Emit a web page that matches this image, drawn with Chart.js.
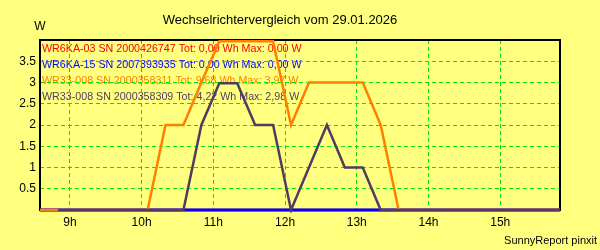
<!DOCTYPE html>
<html><head><meta charset="utf-8">
<script src="https://cdn.jsdelivr.net/npm/chart.js@4"></script>
<style>html,body{margin:0;padding:0;background:#FFFF80;}canvas{display:block;}</style>
</head><body>
<canvas id="c" width="600" height="250"></canvas>
<script>
const times = ["08:35","08:50","09:05","09:20","09:35","09:50","10:05","10:20","10:35","10:50",
  "11:05","11:20","11:35","11:50","12:05","12:20","12:35","12:50","13:05","13:20",
  "13:35","13:50","14:05","14:20","14:35","14:50","15:05","15:20","15:35","15:50"];
const seriesLabels = [
  "WR6KA-03 SN 2000426747 Tot: 0,00 Wh Max: 0,00 W",
  "WR6KA-15 SN 2007393935 Tot: 0,00 Wh Max: 0,00 W",
  "WR33-008 SN 2000358311 Tot: 9,68 Wh Max: 3,97 W",
  "WR33-008 SN 2000358309 Tot: 4,22 Wh Max: 2,98 W"
];
const wr6ka03 = [0,0,0,0,0,0,0,0,0,0, 0,0,0,0,0,0,0,0,0,0, 0,0,0,0,0,0,0,0,0,0];
const wr6ka15 = [0,0,0,0,0,0,0,0,0,0, 0,0,0,0,0,0,0,0,0,0, 0,0,0,0,0,0,0,0,0,0];
const wr33_311 = [0,0,0,0,0,0,0,2,2,3, 3.97,3.97,3.97,3.97,2,3,3,3,3,2, 0,0,0,0,0,0,0,0,0,0];
const wr33_309 = [null,0,0,0,0,0,0,0,0,2, 2.98,2.98,2,2,0,1,2,1,1,0, 0,0,0,0,0,0,0,0,0,0];
const hourTicks = [9,10,11,12,13,14,15];
const yTicks = [0.5,1,1.5,2,2.5,3,3.5];
const title = "Wechselrichtervergleich vom 29.01.2026";
const unitLabel = "W";
const footer = "SunnyReport pinxit";

const FONT = "'Liberation Sans', Arial, sans-serif";
const colors = ['#FF0000', '#0000FF', '#FF8000', '#503C5F'];
const toHours = t => { const p = t.split(':').map(Number); return p[0] + p[1] / 60; };
const pts = arr => arr.map((v, i) => ({x: toHours(times[i]), y: v}));
const seriesData = [wr6ka03, wr6ka15, wr33_311, wr33_309];
const widths = [2.5, 3, 2.5, 2.5];
const orders = [3, 2, 1, 0];

const textPlugin = {
  id: 'textPlugin',
  beforeDraw(chart) {
    const ctx = chart.ctx, a = chart.chartArea;
    ctx.save();
    ctx.textBaseline = 'middle';
    ctx.textAlign = 'left';
    ctx.font = '10.7px ' + FONT;
    seriesLabels.forEach((s, i) => {
      ctx.fillStyle = colors[i];
      ctx.fillText(s, a.left + 2, a.top + 9.5 + 16 * i);
    });
    ctx.fillStyle = '#000';
    ctx.font = '12px ' + FONT;
    ctx.textAlign = 'center';
    ctx.fillText(unitLabel, 40, 27);
    ctx.font = '11px ' + FONT;
    ctx.textAlign = 'right';
    ctx.fillText(footer, 597, 241);
    ctx.restore();
  },
  beforeDatasetsDraw(chart) {
    const ctx = chart.ctx, a = chart.chartArea;
    ctx.save();
    ctx.strokeStyle = '#000';
    ctx.lineWidth = 2;
    ctx.strokeRect(a.left, a.top, a.right - a.left, a.bottom - a.top);
    ctx.restore();
  }
};

new Chart(document.getElementById('c'), {
  type: 'line',
  data: {
    datasets: seriesData.map((d, i) => ({
      label: seriesLabels[i],
      data: pts(d),
      borderColor: colors[i],
      backgroundColor: colors[i],
      borderWidth: widths[i],
      pointRadius: 0,
      tension: 0,
      fill: false,
      clip: {left: 2, top: 3, right: 2, bottom: 3},
      order: orders[i]
    }))
  },
  options: {
    responsive: false,
    animation: false,
    devicePixelRatio: 1,
    layout: {padding: {left: 0, right: 40, top: 0, bottom: 0}},
    plugins: {
      legend: {display: false},
      tooltip: {enabled: false},
      title: {
        display: true,
        text: title,
        color: '#000',
        font: {family: FONT, size: 13, weight: 'normal', lineHeight: 1.2},
        padding: {top: 12.5, bottom: 11.9}
      }
    },
    scales: {
      x: {
        type: 'linear',
        min: toHours(times[0]),
        max: toHours(times[times.length - 1]),
        afterBuildTicks: s => { s.ticks = hourTicks.map(v => ({value: v})); },
        afterFit: s => { s.height = 40; },
        grid: {color: '#00E600', lineWidth: 1, drawTicks: false},
        border: {display: false, dash: [4, 3]},
        ticks: {
          color: '#000', font: {family: FONT, size: 12}, padding: 5,
          maxRotation: 0, autoSkip: false,
          callback: v => v + 'h'
        }
      },
      y: {
        min: 0, max: 4,
        afterBuildTicks: s => { s.ticks = yTicks.map(v => ({value: v})); },
        afterFit: s => { s.width = 40; },
        grid: {color: '#00E600', lineWidth: 1, drawTicks: false},
        border: {display: false, dash: [4, 3]},
        ticks: {
          color: '#000', font: {family: FONT, size: 12}, padding: 4,
          autoSkip: false,
          callback: v => String(v)
        }
      }
    }
  },
  plugins: [textPlugin]
});
</script>
</body></html>
